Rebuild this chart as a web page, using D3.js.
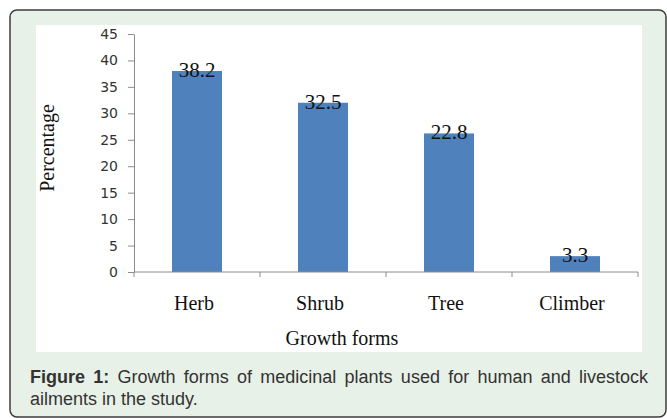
<!DOCTYPE html>
<html>
<head>
<meta charset="utf-8">
<script src="https://cdn.jsdelivr.net/npm/d3@7"></script>
<style>
  html, body { margin: 0; padding: 0; background: #fff; }
  svg { display: block; }
</style>
</head>
<body>
<svg id="chart" width="667" height="418"></svg>
<script>
// ---- data ----
const categories = ["Herb", "Shrub", "Tree", "Climber"];
const values = [38.0, 32.0, 26.2, 3.0];          // bar heights as drawn
const valueLabels = ["38.2", "32.5", "22.8", "3.3"]; // printed data labels
const yTicks = [0, 5, 10, 15, 20, 25, 30, 35, 40, 45];
const yTitle = "Percentage";
const xTitle = "Growth forms";
const captionBold = "Figure 1:";
const captionLine1 = " Growth forms of medicinal plants used for human and livestock";
const captionLine2 = "ailments in the study.";

// ---- drawing ----
const svg = d3.select("#chart");

svg.append("rect")
  .attr("x", 10).attr("y", 10).attr("width", 656).attr("height", 407)
  .attr("rx", 7).attr("ry", 7)
  .attr("fill", "#e8f1e7").attr("stroke", "#3c3c3c").attr("stroke-width", 1.5);

svg.append("rect")
  .attr("x", 36).attr("y", 25).attr("width", 606).attr("height", 327)
  .attr("fill", "#ffffff");

const y = d3.scaleLinear().domain([0, 45]).range([272, 34]);
const x = d3.scaleBand().domain(categories).range([134, 638])
  .paddingInner(0.603).paddingOuter(0.3015);

// bars
svg.append("g").selectAll("rect")
  .data(categories)
  .join("rect")
  .attr("x", d => x(d))
  .attr("width", x.bandwidth())
  .attr("y", (d, i) => y(values[i]))
  .attr("height", (d, i) => y(0) - y(values[i]))
  .attr("fill", "#4f81bd");

// y axis
const yAxis = svg.append("g")
  .attr("transform", "translate(134,0)")
  .call(d3.axisLeft(y).tickValues(yTicks).tickSize(6).tickPadding(10).tickSizeOuter(0));
yAxis.attr("font-size", null).attr("font-family", null);
yAxis.select(".domain").attr("stroke", "#8c8c8c");
yAxis.selectAll(".tick line").attr("stroke", "#8c8c8c");
yAxis.selectAll(".tick text")
  .style("font-family", "'DejaVu Sans', Verdana, sans-serif")
  .style("font-size", "14px").attr("fill", "#333");

// x axis line with boundary ticks
const xAxis = svg.append("g");
xAxis.append("line")
  .attr("x1", x.range()[0]).attr("x2", x.range()[1])
  .attr("y1", y(0)).attr("y2", y(0))
  .attr("stroke", "#8c8c8c");
const boundaries = categories.map(c => x(c) - x.step() * x.paddingInner() / 2)
  .concat([x.range()[1]]);
xAxis.selectAll("line.tk").data(boundaries).join("line")
  .attr("class", "tk")
  .attr("x1", d => d).attr("x2", d => d)
  .attr("y1", y(0)).attr("y2", y(0) + 5)
  .attr("stroke", "#8c8c8c");

// category labels
svg.append("g").selectAll("text")
  .data(categories).join("text")
  .attr("x", d => x(d) + x.bandwidth() / 2 - 3)
  .attr("y", 310)
  .attr("text-anchor", "middle")
  .attr("font-family", "'Liberation Serif', 'Times New Roman', serif")
  .attr("font-size", 20).attr("fill", "#111")
  .text(d => d);

// value labels
svg.append("g").selectAll("text")
  .data(categories).join("text")
  .attr("x", d => x(d) + x.bandwidth() / 2)
  .attr("y", (d, i) => y(values[i]) + 6)
  .attr("text-anchor", "middle")
  .attr("font-family", "'Liberation Serif', 'Times New Roman', serif")
  .attr("font-size", 21).attr("fill", "#111")
  .text((d, i) => valueLabels[i]);

// axis titles
svg.append("text")
  .attr("x", 342).attr("y", 345)
  .attr("text-anchor", "middle")
  .attr("font-family", "'Liberation Serif', 'Times New Roman', serif")
  .attr("font-size", 20).attr("fill", "#111")
  .text(xTitle);

svg.append("text")
  .attr("transform", "translate(54,148) rotate(-90)")
  .attr("text-anchor", "middle")
  .attr("font-family", "'Liberation Serif', 'Times New Roman', serif")
  .attr("font-size", 20).attr("fill", "#111")
  .text(yTitle);

// caption
const cap1 = svg.append("text")
  .attr("x", 30).attr("y", 383)
  .attr("font-family", "'Liberation Sans', Arial, sans-serif")
  .attr("font-size", 18).attr("fill", "#333");
cap1.append("tspan").attr("font-weight", "bold").text(captionBold);
cap1.append("tspan").text(captionLine1);
const natural = cap1.node().getComputedTextLength();
const target = 648 - 30;
const nSpaces = (captionBold + captionLine1).split(" ").length - 1;
if (natural < target) cap1.attr("word-spacing", (target - natural) / nSpaces);

svg.append("text")
  .attr("x", 30).attr("y", 405)
  .attr("font-family", "'Liberation Sans', Arial, sans-serif")
  .attr("font-size", 18).attr("fill", "#333")
  .text(captionLine2);
</script>
</body>
</html>
